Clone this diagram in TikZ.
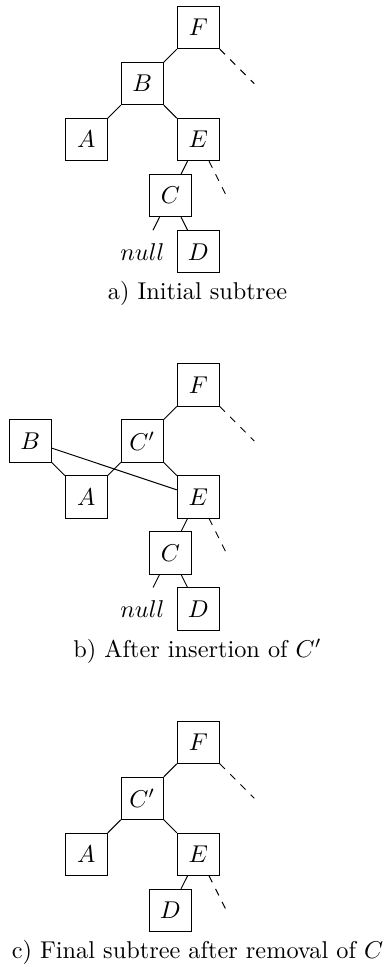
\documentclass[tikz,border=0pt]{standalone}
\begin{document}
\tikzset{
  treebox/.style={draw, thin, minimum size=17.3pt, inner sep=0pt},
  nullbox/.style={minimum size=17.3pt, inner sep=0pt},
  edge/.style={thin},
  stub/.style={thin, dashed},
  caption/.style={anchor=base, inner sep=0pt}
}
\begin{tikzpicture}[x=0.4115pt, y=-0.4115pt]
\path[use as bounding box] (0,0) rectangle (387,964);

% a) initial subtree
\begin{scope}[shift={(198.3,27.7)}]
  \node[treebox] (aF) at (0,0) {$F$};
  \node[treebox] (aB) at (-56,56) {$B$};
  \node[treebox] (aA) at (-112,112) {$A$};
  \node[treebox] (aE) at (0,112) {$E$};
  \node[treebox] (aC) at (-28,168) {$C$};
  \node[treebox] (aD) at (0,224) {$D$};
  \node[nullbox] (aN) at (-56,224) {$null$};
  \coordinate (aFr) at (56,56);
  \coordinate (aEr) at (28,168);
  \draw[edge] (aF) -- (aB);
  \draw[edge] (aB) -- (aA);
  \draw[edge] (aB) -- (aE);
  \draw[edge] (aE) -- (aC);
  \draw[edge] (aC) -- (aN);
  \draw[edge] (aC) -- (aD);
  \draw[stub] (aF) -- (aFr);
  \draw[stub] (aE) -- (aEr);
  \node[caption] (acap) at (-0.8,272.3) {a) Initial subtree};
\end{scope}

% b) after insertion of C'
\begin{scope}[shift={(198.3,385)}]
  \node[treebox] (bF) at (0,0) {$F$};
  \node[treebox] (bCp) at (-56,56) {$C'$};
  \node[treebox] (bB) at (-168,56) {$B$};
  \node[treebox] (bA) at (-112,112) {$A$};
  \node[treebox] (bE) at (0,112) {$E$};
  \node[treebox] (bC) at (-28,168) {$C$};
  \node[treebox] (bD) at (0,224) {$D$};
  \node[nullbox] (bN) at (-56,224) {$null$};
  \coordinate (bFr) at (56,56);
  \coordinate (bEr) at (28,168);
  \draw[edge] (bF) -- (bCp);
  \draw[edge] (bCp) -- (bA);
  \draw[edge] (bCp) -- (bE);
  \draw[edge] (bB) -- (bA);
  \draw[edge] (bB) -- (bE);
  \draw[edge] (bE) -- (bC);
  \draw[edge] (bC) -- (bN);
  \draw[edge] (bC) -- (bD);
  \draw[stub] (bF) -- (bFr);
  \draw[stub] (bE) -- (bEr);
  \node[caption] (bcap) at (-0.8,272.3) {b) After insertion of $C'$};
\end{scope}

% c) final subtree after removal of C
\begin{scope}[shift={(198.3,742.3)}]
  \node[treebox] (cF) at (0,0) {$F$};
  \node[treebox] (cCp) at (-56,56) {$C'$};
  \node[treebox] (cA) at (-112,112) {$A$};
  \node[treebox] (cE) at (0,112) {$E$};
  \node[treebox] (cD) at (-28,168) {$D$};
  \coordinate (cFr) at (56,56);
  \coordinate (cEr) at (28,168);
  \draw[edge] (cF) -- (cCp);
  \draw[edge] (cCp) -- (cA);
  \draw[edge] (cCp) -- (cE);
  \draw[edge] (cE) -- (cD);
  \draw[stub] (cF) -- (cFr);
  \draw[stub] (cE) -- (cEr);
  \node[caption] (ccap) at (-0.8,216) {c) Final subtree after removal of $C$};
\end{scope}
\end{tikzpicture}
\end{document}
